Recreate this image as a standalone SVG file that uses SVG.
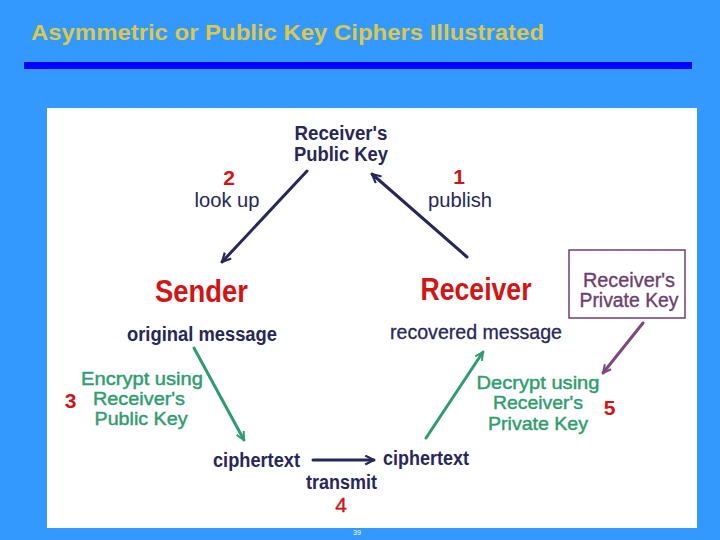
<svg xmlns="http://www.w3.org/2000/svg" width="720" height="540" viewBox="0 0 720 540">
<style>
text{font-family:"Liberation Sans",Arial,sans-serif}
.navy{fill:#27275a}
.red{fill:#d41414;font-weight:bold}
.green{fill:#2f9c6e;stroke:#2f9c6e;stroke-width:0.45;font-size:19px;text-anchor:middle}
.b{font-weight:bold}
.ln{fill:none;stroke-width:3;stroke-linecap:round}
</style>
<defs>
<marker id="hn" viewBox="0 0 10 10" refX="9" refY="5" markerUnits="userSpaceOnUse" markerWidth="11" markerHeight="11" orient="auto"><path d="M1,1 L9,5 L1,9" fill="none" stroke="#27275a" stroke-width="2"/></marker>
<marker id="hg" viewBox="0 0 10 10" refX="9" refY="5" markerUnits="userSpaceOnUse" markerWidth="10" markerHeight="10" orient="auto"><path d="M1,1 L9,5 L1,9" fill="none" stroke="#2f9c6e" stroke-width="2"/></marker>
<marker id="hp" viewBox="0 0 10 10" refX="9" refY="5" markerUnits="userSpaceOnUse" markerWidth="10" markerHeight="10" orient="auto"><path d="M1,1 L9,5 L1,9" fill="none" stroke="#7a4a7a" stroke-width="2"/></marker>
</defs>
<rect x="0" y="0" width="720" height="540" fill="#3399ff"/>
<text x="31" y="40" font-size="22.5" font-weight="bold" fill="#dcc84c" textLength="513" lengthAdjust="spacingAndGlyphs">Asymmetric or Public Key Ciphers Illustrated</text>
<rect x="24" y="62" width="668" height="7" fill="#0000ff"/>
<rect x="47" y="108" width="650" height="420" fill="#ffffff"/>
<text x="357" y="535" font-size="7" fill="#ffffff" text-anchor="middle">39</text>

<g id="connectors">
<line class="ln" x1="307" y1="171" x2="222" y2="262" stroke="#27275a" marker-end="url(#hn)"/>
<line class="ln" x1="467" y1="257" x2="372" y2="174" stroke="#27275a" marker-end="url(#hn)"/>
<line class="ln" x1="194" y1="348" x2="244" y2="440" stroke="#2f9c6e" stroke-width="2.5" marker-end="url(#hg)"/>
<line class="ln" x1="313" y1="460" x2="374" y2="460" stroke="#27275a" marker-end="url(#hn)"/>
<line class="ln" x1="426" y1="438" x2="483" y2="352" stroke="#2f9c6e" stroke-width="2.5" marker-end="url(#hg)"/>
<line class="ln" x1="643" y1="323" x2="603" y2="373" stroke="#7a4a7a" stroke-width="2" marker-end="url(#hp)"/>
</g>

<g id="public-key">
<text class="navy b" x="341" y="140" font-size="20" text-anchor="middle" textLength="93" lengthAdjust="spacingAndGlyphs">Receiver's</text>
<text class="navy b" x="341" y="161" font-size="20" text-anchor="middle" textLength="94" lengthAdjust="spacingAndGlyphs">Public Key</text>
</g>
<g id="step2">
<text class="red" x="229" y="185" font-size="21" text-anchor="middle">2</text>
<text class="navy" x="227" y="207" font-size="20.5" text-anchor="middle" textLength="65" lengthAdjust="spacingAndGlyphs">look up</text>
</g>
<g id="step1">
<text class="red" x="459" y="184" font-size="21" text-anchor="middle">1</text>
<text class="navy" x="460" y="207" font-size="20.5" text-anchor="middle" textLength="64" lengthAdjust="spacingAndGlyphs">publish</text>
</g>
<g id="sender">
<text class="red" x="201.5" y="302" font-size="31" text-anchor="middle" textLength="93" lengthAdjust="spacingAndGlyphs">Sender</text>
<text class="navy b" x="202" y="341" font-size="20" text-anchor="middle" textLength="150" lengthAdjust="spacingAndGlyphs">original message</text>
</g>
<g id="receiver">
<text class="red" x="476" y="300" font-size="32" text-anchor="middle" textLength="111" lengthAdjust="spacingAndGlyphs">Receiver</text>
<text class="navy" x="476" y="339" font-size="21" text-anchor="middle" textLength="172" lengthAdjust="spacingAndGlyphs" stroke="#27275a" stroke-width="0.3">recovered message</text>
</g>
<g id="private-key">
<rect x="569" y="250" width="116" height="68" fill="none" stroke="#6e3e6e" stroke-width="1.5"/>
<text x="629" y="287" font-size="19.5" fill="#6e3e6e" stroke="#6e3e6e" stroke-width="0.35" text-anchor="middle" textLength="92" lengthAdjust="spacingAndGlyphs">Receiver's</text>
<text x="629" y="307" font-size="19.5" fill="#6e3e6e" stroke="#6e3e6e" stroke-width="0.35" text-anchor="middle" textLength="99" lengthAdjust="spacingAndGlyphs">Private Key</text>
</g>
<g id="step3">
<text class="green" x="142" y="385" textLength="122" lengthAdjust="spacingAndGlyphs">Encrypt using</text>
<text class="green" x="139" y="405" textLength="92" lengthAdjust="spacingAndGlyphs">Receiver's</text>
<text class="green" x="141" y="425" textLength="93" lengthAdjust="spacingAndGlyphs">Public Key</text>
<text class="red" x="70.5" y="408" font-size="21" text-anchor="middle">3</text>
</g>
<g id="step5">
<text class="green" x="538" y="389" textLength="123" lengthAdjust="spacingAndGlyphs">Decrypt using</text>
<text class="green" x="538" y="409" textLength="90" lengthAdjust="spacingAndGlyphs">Receiver's</text>
<text class="green" x="538" y="430" textLength="100" lengthAdjust="spacingAndGlyphs">Private Key</text>
<text class="red" x="609.5" y="415" font-size="21" text-anchor="middle">5</text>
</g>
<g id="ciphertext-sender">
<text class="navy b" x="256.5" y="467" font-size="20" text-anchor="middle" textLength="87" lengthAdjust="spacingAndGlyphs">ciphertext</text>
</g>
<g id="ciphertext-receiver">
<text class="navy b" x="426" y="465" font-size="20" text-anchor="middle" textLength="86" lengthAdjust="spacingAndGlyphs">ciphertext</text>
</g>
<g id="step4">
<text class="navy b" x="341.5" y="489" font-size="19.5" text-anchor="middle" textLength="71" lengthAdjust="spacingAndGlyphs">transmit</text>
<text x="341" y="512" font-size="21" fill="#d41414" stroke="#d41414" stroke-width="0.4" text-anchor="middle">4</text>
</g>
</svg>
